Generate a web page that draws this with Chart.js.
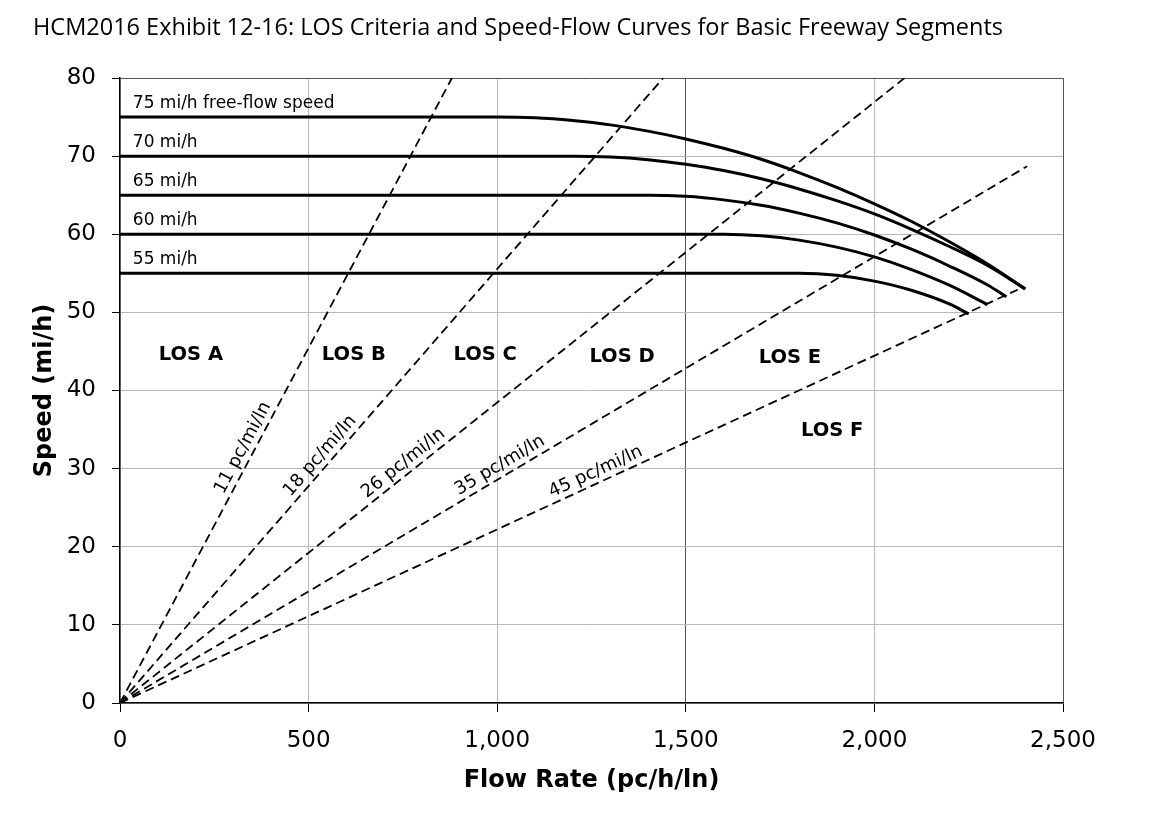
<!DOCTYPE html>
<html>
<head>
<meta charset="utf-8">
<script src="https://cdn.jsdelivr.net/npm/chart.js@4.4.1/dist/chart.umd.min.js"></script>
<style>
  html, body { margin: 0; padding: 0; background: #fff; }
  #wrap { width: 1158px; height: 826px; }
</style>
</head>
<body>
<div id="wrap"><canvas id="chart" width="1158" height="826"></canvas></div>
<script>
// speed-flow curves
const flow75 = [0, 1000, 1100, 1200, 1300, 1400, 1500, 1600, 1700, 1800, 1900, 2000, 2100, 2200, 2300, 2400];
const speed75 = [75, 75, 74.9, 74.55, 74.0, 73.2, 72.2, 71.0, 69.6, 67.9, 66.0, 63.9, 61.6, 59.0, 56.2, 53.0];
const flow70 = [0, 1200, 1300, 1400, 1500, 1600, 1700, 1800, 1900, 2000, 2100, 2200, 2300, 2400];
const speed70 = [70, 70, 69.9, 69.55, 68.95, 68.15, 67.1, 65.8, 64.3, 62.6, 60.6, 58.4, 56.0, 53.0];
const flow65 = [0, 1400, 1500, 1600, 1700, 1800, 1900, 2000, 2100, 2200, 2300, 2350];
const speed65 = [65, 65, 64.85, 64.4, 63.7, 62.7, 61.45, 59.9, 58.05, 55.9, 53.5, 52.0];
const flow60 = [0, 1600, 1700, 1800, 1900, 2000, 2100, 2200, 2300];
const speed60 = [60, 60, 59.8, 59.25, 58.35, 57.1, 55.45, 53.45, 51.0];
const flow55 = [0, 1800, 1900, 2000, 2100, 2200, 2250];
const speed55 = [55, 55, 54.75, 54.0, 52.8, 51.05, 49.8];
const ffsLabels = ['75 mi/h free-flow speed', '70 mi/h', '65 mi/h', '60 mi/h', '55 mi/h'];
const ffsValues = [75, 70, 65, 60, 55];

// density boundaries (dashed lines from the origin)
const densities = [11, 18, 26, 35, 45];
const densityEndFlow = [880, 1440, 2080, 2405, 2380];
const densityEndSpeed = [80, 80, 80, 68.7, 52.9];
const densityLabelSpeed = [32, 30.7, 29.6, 29.2, 28.3];

const losNames = ['LOS A', 'LOS B', 'LOS C', 'LOS D', 'LOS E', 'LOS F'];
const losFlow = [188, 620, 968, 1331, 1776, 1888];
const losSpeed = [44.5, 44.5, 44.5, 44.3, 44.2, 34.8];

const xTicks = [0, 500, 1000, 1500, 2000, 2500];
const yTicks = [0, 10, 20, 30, 40, 50, 60, 70, 80];

function pts(xs, ys) {
  return xs.map((x, i) => ({x: x, y: ys[i]}));
}

const datasets = [];
densities.forEach((d, i) => {
  datasets.push({
    label: d + ' pc/mi/ln',
    data: [{x: 0, y: 0}, {x: densityEndFlow[i], y: densityEndSpeed[i]}],
    borderColor: '#000',
    borderWidth: 1.8,
    borderDash: [9, 5],
    pointRadius: 0,
    showLine: true
  });
});
[[flow75, speed75], [flow70, speed70], [flow65, speed65], [flow60, speed60], [flow55, speed55]].forEach((s, i) => {
  datasets.push({
    label: ffsLabels[i],
    data: pts(s[0], s[1]),
    borderColor: '#000',
    borderWidth: 3,
    pointRadius: 0,
    showLine: true,
    cubicInterpolationMode: 'monotone'
  });
});

const textPlugin = {
  id: 'texts',
  afterDatasetsDraw(chart) {
    const ctx = chart.ctx;
    const xs = chart.scales.x, ys = chart.scales.y;
    ctx.save();
    ctx.fillStyle = '#000';

    // FFS labels
    ctx.font = '17px "DejaVu Sans"';
    ctx.textAlign = 'left';
    ctx.textBaseline = 'alphabetic';
    ffsLabels.forEach((t, i) => {
      ctx.fillText(t, xs.getPixelForValue(34), ys.getPixelForValue(ffsValues[i] + 1.15));
    });

    // LOS labels
    ctx.font = 'bold 19.5px "DejaVu Sans"';
    ctx.textAlign = 'center';
    ctx.textBaseline = 'middle';
    losNames.forEach((t, i) => {
      ctx.fillText(t, xs.getPixelForValue(losFlow[i]), ys.getPixelForValue(losSpeed[i]));
    });

    // density labels along the dashed lines
    ctx.font = '18px "DejaVu Sans"';
    const x0 = xs.getPixelForValue(0), y0 = ys.getPixelForValue(0);
    densities.forEach((d, i) => {
      const s = densityLabelSpeed[i];
      const px = xs.getPixelForValue(d * s), py = ys.getPixelForValue(s);
      const ang = Math.atan2(py - y0, px - x0);
      ctx.save();
      ctx.translate(px, py);
      ctx.rotate(ang);
      ctx.fillText(d + ' pc/mi/ln', 0, -11);
      ctx.restore();
    });

    // main title
    ctx.font = '23.5px "Open Sans"';
    ctx.textAlign = 'left';
    ctx.textBaseline = 'middle';
    ctx.fillText('HCM2016 Exhibit 12-16: LOS Criteria and Speed-Flow Curves for Basic Freeway Segments', 33, 28);
    ctx.restore();
  }
};

new Chart(document.getElementById('chart'), {
  type: 'scatter',
  data: {datasets: datasets},
  options: {
    responsive: false,
    animation: false,
    layout: {padding: {left: 0, top: 78, right: 95, bottom: 0}},
    plugins: {legend: {display: false}, tooltip: {enabled: false}},
    scales: {
      x: {
        type: 'linear',
        min: 0, max: 2500,
        afterFit(scale) { scale.height = 123; },
        afterBuildTicks(scale) { scale.ticks = xTicks.map(v => ({value: v})); },
        ticks: {
          color: '#000',
          padding: 15,
          font: {family: 'DejaVu Sans', size: 23},
          callback: v => v.toLocaleString('en-US')
        },
        grid: {
          color: c => (c.tick && (c.tick.value === 1500 || c.tick.value === 2500)) ? '#555' : '#b8b8b8',
          tickColor: '#000',
          tickLength: 9,
          lineWidth: 1
        },
        border: {color: '#000', width: 1.5},
        title: {
          display: true,
          text: 'Flow Rate (pc/h/ln)',
          color: '#000',
          font: {family: 'DejaVu Sans', size: 24, weight: 'bold'},
          padding: {top: 0, bottom: 31}
        }
      },
      y: {
        type: 'linear',
        min: 0, max: 80,
        afterFit(scale) { scale.width = 120; },
        afterBuildTicks(scale) { scale.ticks = yTicks.map(v => ({value: v})); },
        ticks: {
          color: '#000',
          padding: 16,
          font: {family: 'DejaVu Sans', size: 23}
        },
        grid: {
          color: c => (c.tick && c.tick.value === 80) ? '#555' : '#b8b8b8',
          tickColor: '#000',
          tickLength: 8,
          lineWidth: 1
        },
        border: {color: '#000', width: 1.5},
        title: {
          display: true,
          text: 'Speed (mi/h)',
          color: '#000',
          font: {family: 'DejaVu Sans', size: 24, weight: 'bold'},
          padding: {top: 30, bottom: 0}
        }
      }
    }
  },
  plugins: [textPlugin]
});
</script>
</body>
</html>
